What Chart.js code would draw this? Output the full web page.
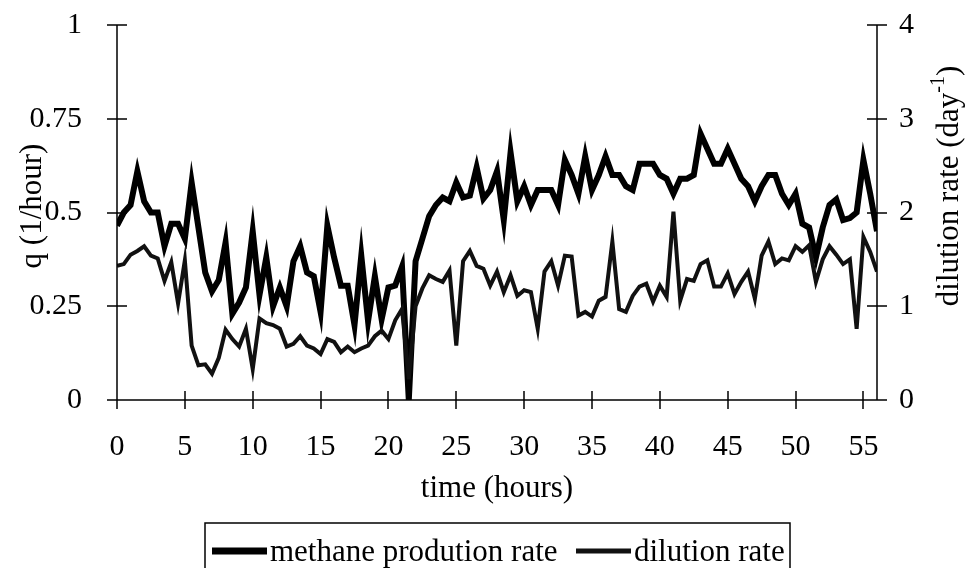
<!DOCTYPE html>
<html>
<head>
<meta charset="utf-8">
<script src="https://cdn.jsdelivr.net/npm/chart.js@4"></script>
<style>
  html, body { margin: 0; padding: 0; background: #fff; }
  #wrap { width: 970px; height: 568px; position: relative; }
</style>
</head>
<body>
<div id="wrap"><canvas id="chart"></canvas></div>
<script>
// sampling every half hour, 0 .. 56 h
const hours = Array.from({ length: 113 }, (_, i) => i * 0.5);

// methane production rate q (1/hour)
const methane = [
  0.465, 0.50, 0.52, 0.61, 0.53, 0.50, 0.50, 0.41, 0.47, 0.47,
  0.43, 0.58, 0.46, 0.34, 0.29, 0.32, 0.42, 0.23, 0.26, 0.30,
  0.45, 0.28, 0.38, 0.25, 0.30, 0.25, 0.37, 0.41, 0.34, 0.33,
  0.235, 0.465, 0.38, 0.305, 0.305, 0.20, 0.385, 0.21, 0.33, 0.215,
  0.30, 0.305, 0.355, 0.0, 0.37, 0.43, 0.49, 0.52, 0.54, 0.53,
  0.58, 0.54, 0.545, 0.62, 0.537, 0.56, 0.61, 0.48, 0.66, 0.53,
  0.57, 0.52, 0.56, 0.56, 0.56, 0.52, 0.64, 0.60, 0.55, 0.65,
  0.56, 0.60, 0.65, 0.60, 0.60, 0.57, 0.56, 0.63, 0.63, 0.63,
  0.60, 0.59, 0.55, 0.59, 0.59, 0.60, 0.71, 0.67, 0.63, 0.63,
  0.67, 0.63, 0.59, 0.57, 0.53, 0.57, 0.60, 0.60, 0.55, 0.52,
  0.55, 0.47, 0.46, 0.38, 0.46, 0.52, 0.535, 0.48, 0.485, 0.50,
  0.64, 0.55, 0.45
];

// dilution rate (day^-1)
const dilution = [
  1.43, 1.45, 1.55, 1.59, 1.64, 1.54, 1.51, 1.27, 1.47, 1.03,
  1.49, 0.58, 0.37, 0.38, 0.28, 0.45, 0.75, 0.65, 0.57, 0.76,
  0.33, 0.87, 0.82, 0.80, 0.76, 0.57, 0.60, 0.68, 0.58, 0.55,
  0.49, 0.65, 0.62, 0.51, 0.57, 0.51, 0.55, 0.58, 0.68, 0.74,
  0.65, 0.85, 0.97, 0.22, 1.00, 1.19, 1.33, 1.29, 1.26, 1.38,
  0.58, 1.48, 1.59, 1.43, 1.40, 1.22, 1.37, 1.15, 1.33, 1.11,
  1.17, 1.15, 0.76, 1.37, 1.48, 1.22, 1.54, 1.53, 0.90, 0.94,
  0.89, 1.06, 1.10, 1.69, 0.97, 0.94, 1.11, 1.21, 1.24, 1.05,
  1.22, 1.10, 2.01, 1.06, 1.29, 1.27, 1.45, 1.49, 1.21, 1.21,
  1.35, 1.13, 1.26, 1.37, 1.08, 1.54, 1.69, 1.45, 1.51, 1.49,
  1.64, 1.58, 1.65, 1.26, 1.50, 1.64, 1.55, 1.45, 1.50, 0.76,
  1.74, 1.58, 1.37
];

const xTicks = [0, 5, 10, 15, 20, 25, 30, 35, 40, 45, 50, 55];
const qTicks = [0, 0.25, 0.5, 0.75, 1];
const qLabels = ['0', '0.25', '0.5', '0.75', '1'];
const dTicks = [0, 1, 2, 3, 4];

const FONT = "'Liberation Serif', 'Times New Roman', serif";
Chart.defaults.font.family = FONT;
Chart.defaults.font.size = 30;
Chart.defaults.color = '#000';

const setTicks = list => scale => { scale.ticks = list.map(v => ({ value: v })); };
// fixed axis widths, no extra room for half-labels at the ends
const fixWidth = w => s => { s.width = w; s.paddingTop = 0; s.paddingBottom = 0; };

// axis lines, cross ticks, titles and boxed legend
const frame = {
  id: 'frame',
  afterDraw(chart) {
    const { ctx, chartArea: a, scales } = chart;
    ctx.save();
    ctx.strokeStyle = '#000';
    ctx.lineWidth = 1.5;
    ctx.beginPath();
    ctx.moveTo(a.left, a.top);
    ctx.lineTo(a.left, a.bottom);
    ctx.lineTo(a.right, a.bottom);
    ctx.moveTo(a.right, a.top);
    ctx.lineTo(a.right, a.bottom);
    xTicks.forEach(v => {
      const px = Math.round(scales.x.getPixelForValue(v));
      ctx.moveTo(px, a.bottom - 9);
      ctx.lineTo(px, a.bottom + 9);
    });
    qTicks.forEach(v => {
      const py = Math.round(scales.y.getPixelForValue(v));
      ctx.moveTo(a.left - 10, py);
      ctx.lineTo(a.left + 10, py);
    });
    dTicks.forEach(v => {
      const py = Math.round(scales.y2.getPixelForValue(v));
      ctx.moveTo(a.right - 10, py);
      ctx.lineTo(a.right + 10, py);
    });
    ctx.stroke();

    ctx.fillStyle = '#000';
    ctx.font = '31px ' + FONT;
    ctx.textAlign = 'center';
    ctx.textBaseline = 'middle';
    ctx.fillText('time (hours)', (a.left + a.right) / 2, 489);

    ctx.save();
    ctx.translate(33, 206);
    ctx.rotate(-Math.PI / 2);
    ctx.fillText('q (1/hour)', 0, 0);
    ctx.restore();

    // right title with superscript -1
    ctx.save();
    ctx.translate(950, 186);
    ctx.rotate(-Math.PI / 2);
    const main = 'dilution rate (day';
    const sup = '-1';
    ctx.font = '31px ' + FONT;
    const w1 = ctx.measureText(main).width;
    const w3 = ctx.measureText(')').width;
    ctx.font = '20px ' + FONT;
    const w2 = ctx.measureText(sup).width;
    let x = -(w1 + w2 + w3) / 2;
    ctx.textAlign = 'left';
    ctx.font = '31px ' + FONT;
    ctx.fillText(main, x, 0);
    x += w1;
    ctx.font = '20px ' + FONT;
    ctx.fillText(sup, x, -11);
    x += w2;
    ctx.font = '31px ' + FONT;
    ctx.fillText(')', x, 0);
    ctx.restore();

    // legend box, its bottom edge runs off the canvas
    ctx.lineWidth = 1.5;
    ctx.strokeRect(205, 523, 585, 60);
    ctx.font = '31px ' + FONT;
    ctx.textAlign = 'left';
    ctx.textBaseline = 'alphabetic';
    chart.data.datasets.slice().sort((p, q) => p.legendPos - q.legendPos).forEach(ds => {
      ctx.beginPath();
      ctx.strokeStyle = ds.borderColor;
      ctx.lineWidth = ds.borderWidth + 1;
      ctx.moveTo(ds.legendX, 551);
      ctx.lineTo(ds.legendX + 55, 551);
      ctx.stroke();
      ctx.fillText(ds.label, ds.legendX + 58, 561);
    });
    ctx.restore();
  }
};

new Chart(document.getElementById('chart'), {
  type: 'line',
  data: {
    datasets: [
      {
        label: 'dilution rate',
        data: hours.map((t, i) => ({ x: t, y: dilution[i] })),
        yAxisID: 'y2',
        borderColor: '#111',
        borderWidth: 4,
        pointRadius: 0,
        tension: 0,
        order: 1,
        legendPos: 2,
        legendX: 576
      },
      {
        label: 'methane prodution rate',
        data: hours.map((t, i) => ({ x: t, y: methane[i] })),
        yAxisID: 'y',
        borderColor: '#000',
        borderWidth: 6,
        pointRadius: 0,
        tension: 0,
        order: 2,
        legendPos: 1,
        legendX: 212
      }
    ]
  },
  options: {
    responsive: true,
    maintainAspectRatio: false,
    animation: false,
    layout: { padding: { top: 25 } },
    plugins: { legend: { display: false }, tooltip: { enabled: false } },
    scales: {
      x: {
        type: 'linear',
        position: 'bottom',
        min: 0,
        max: 56,
        afterBuildTicks: setTicks(xTicks),
        afterFit: s => { s.height = 168; s.paddingLeft = 0; s.paddingRight = 0; },
        grid: { display: false, drawTicks: false },
        border: { display: false },
        ticks: { padding: 29, maxRotation: 0, autoSkip: false }
      },
      y: {
        position: 'left',
        min: 0,
        max: 1,
        afterBuildTicks: setTicks(qTicks),
        afterFit: fixWidth(117),
        grid: { display: false, drawTicks: false },
        border: { display: false },
        ticks: { padding: 35, callback: v => qLabels[qTicks.indexOf(v)] }
      },
      y2: {
        position: 'right',
        min: 0,
        max: 4,
        afterBuildTicks: setTicks(dTicks),
        afterFit: fixWidth(93),
        grid: { display: false, drawTicks: false },
        border: { display: false },
        ticks: { padding: 22 }
      }
    }
  },
  plugins: [frame]
});
</script>
</body>
</html>
